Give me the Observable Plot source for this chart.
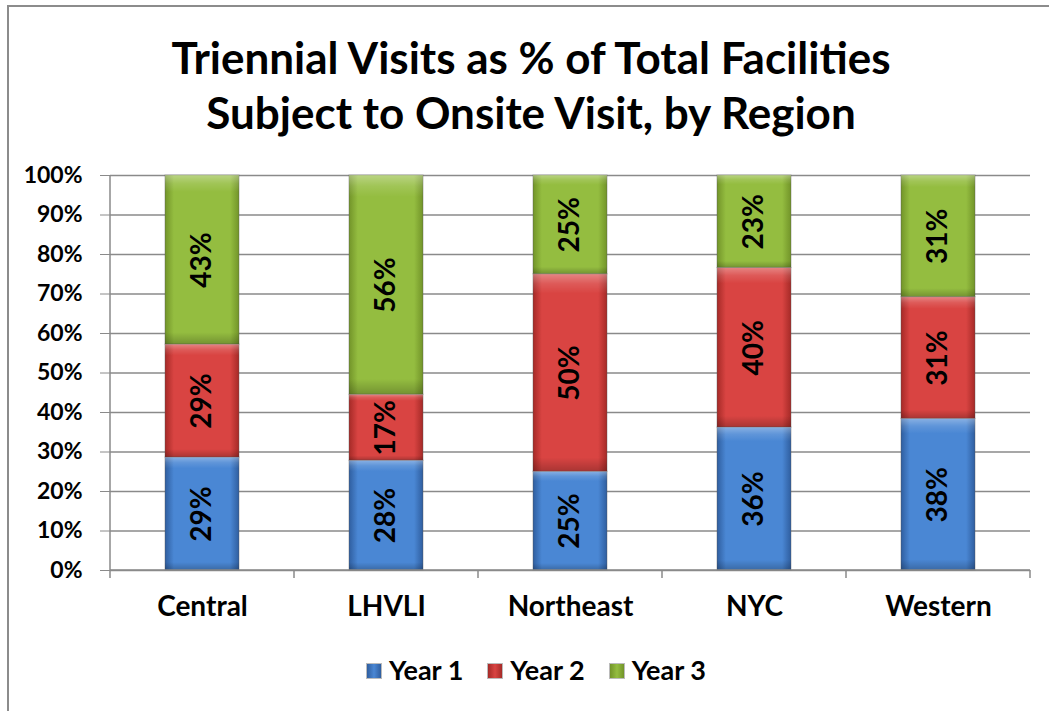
<!DOCTYPE html>
<html><head><meta charset="utf-8">
<script src="https://cdn.jsdelivr.net/npm/d3@7"></script>
<script src="https://cdn.jsdelivr.net/npm/@observablehq/plot@0.6"></script>
<style>
html,body{margin:0;padding:0;background:#fff;width:1049px;height:711px;overflow:hidden;font-family:Lato,"Open Sans",sans-serif;}
#frame{position:absolute;left:7px;top:5px;width:1100px;height:800px;border-left:2px solid #8c8c8c;border-top:2px solid #8c8c8c;}
#title{position:absolute;left:0;top:30px;width:1062px;text-align:center;font-weight:bold;font-size:44px;line-height:55px;color:#000;}
#chart{position:absolute;left:0;top:150px;}
#legend{position:absolute;left:0;top:653px;width:1072px;text-align:center;font-weight:bold;font-size:27px;color:#000;}
#legend span.item{display:inline-block;margin:0 12px;}
#legend span.sw{display:inline-block;width:14px;height:14px;margin-right:7px;vertical-align:1px;border:1px solid #bbb;}
</style></head><body>
<div id="frame"></div>
<div id="title">Triennial Visits as % of Total Facilities<br>Subject to Onsite Visit, by Region</div>
<div id="chart"></div>
<div id="legend"></div>
<script>
const regions = ["Central", "LHVLI", "Northeast", "NYC", "Western"];
const years = ["Year 1", "Year 2", "Year 3"];
const year1 = [28.6, 27.8, 25.0, 36.2, 38.4];
const year2 = [28.6, 16.7, 50.0, 40.4, 30.8];
const year3 = [42.8, 55.5, 25.0, 23.4, 30.8];
const yTicks = [0,10,20,30,40,50,60,70,80,90,100];
const colors = {
  "Year 1": ["#2f5e9f", "#4a87d4"],
  "Year 2": ["#a52a27", "#d94442"],
  "Year 3": ["#729429", "#94bd40"]
};

const series = [year1, year2, year3];
const data = [];
regions.forEach((r, i) => years.forEach((y, j) => data.push({region: r, year: y, value: series[j][i]})));

const fills = years.map((y, j) => `url(#grad${j})`);

const chart = Plot.plot({
  width: 1049, height: 480,
  marginLeft: 110, marginRight: 19, marginTop: 25, marginBottom: 60,
  style: {fontFamily: "Lato, 'Open Sans', sans-serif", fontWeight: "bold", color: "#000", background: "transparent"},
  x: {domain: regions, paddingInner: 0.6, paddingOuter: 0.3, label: null},
  y: {domain: [0, 100], label: null},
  color: {domain: years, range: fills},
  marks: [
    Plot.gridY(yTicks, {stroke: "#8a8a8a", strokeOpacity: 1, strokeWidth: 1.5}),
    Plot.axisY(yTicks, {tickFormat: d => d + "%", tickSize: 10, tickPadding: 18, stroke: "#8a8a8a", fontSize: 23, fontWeight: "bold", label: null}),
    Plot.axisX({tickSize: 0, tickPadding: 26, fontSize: 28, fontWeight: "bold", label: null}),
    Plot.barY(data, {x: "region", y: "value", fill: "year", stroke: "#555", strokeOpacity: 0.4, strokeWidth: 1}),
    Plot.barY(data, {x: "region", y: "value", fill: "url(#shade)"}),
    Plot.text(data, Plot.stackY({x: "region", y: "value", z: "year", text: d => Math.round(d.value) + "%", rotate: -90, fontSize: 28, fontWeight: "bold", fill: "#000"}))
  ]
});
document.getElementById("chart").appendChild(chart);

// gradients
const svg = d3.select(chart);
const defs = svg.insert("defs", ":first-child");
years.forEach((y, j) => {
  const g = defs.append("linearGradient").attr("id", `grad${j}`).attr("x1", 0).attr("x2", 1).attr("y1", 0).attr("y2", 0);
  g.append("stop").attr("offset", "0%").attr("stop-color", colors[y][0]);
  g.append("stop").attr("offset", "12%").attr("stop-color", colors[y][1]);
  g.append("stop").attr("offset", "88%").attr("stop-color", colors[y][1]);
  g.append("stop").attr("offset", "100%").attr("stop-color", colors[y][0]);
});
const sh = defs.append("linearGradient").attr("id", "shade").attr("x1", 0).attr("x2", 0).attr("y1", 0).attr("y2", 1);
[["0%", "#fff", 0.35], ["5%", "#fff", 0.12], ["10%", "#fff", 0], ["93%", "#000", 0], ["100%", "#000", 0.22]]
  .forEach(([o, c, a]) => sh.append("stop").attr("offset", o).attr("stop-color", c).attr("stop-opacity", a));

// axis line and category boundary ticks from scales
const xs = chart.scale("x"), ys = chart.scale("y");
const y0 = ys.apply(0), y100 = ys.apply(100);
const step = xs.step, bw = xs.bandwidth;
const bounds = regions.map(r => xs.apply(r) + bw / 2 - step / 2);
bounds.push(xs.apply(regions[regions.length - 1]) + bw / 2 + step / 2);
const axisG = svg.append("g").attr("stroke", "#8a8a8a").attr("stroke-width", 1.5);
axisG.append("line").attr("x1", bounds[0]).attr("x2", bounds[0]).attr("y1", y100).attr("y2", y0);
axisG.append("line").attr("x1", bounds[0]).attr("x2", bounds[bounds.length-1]).attr("y1", y0).attr("y2", y0);
bounds.forEach(b => axisG.append("line").attr("x1", b).attr("x2", b).attr("y1", y0).attr("y2", y0 + 8));

// legend
const leg = document.getElementById("legend");
years.forEach(y => {
  const it = document.createElement("span"); it.className = "item";
  const sw = document.createElement("span"); sw.className = "sw";
  sw.style.background = `linear-gradient(to right, ${colors[y][0]}, ${colors[y][1]}, ${colors[y][0]})`;
  it.appendChild(sw); it.appendChild(document.createTextNode(y));
  leg.appendChild(it);
});
</script>
</body></html>
